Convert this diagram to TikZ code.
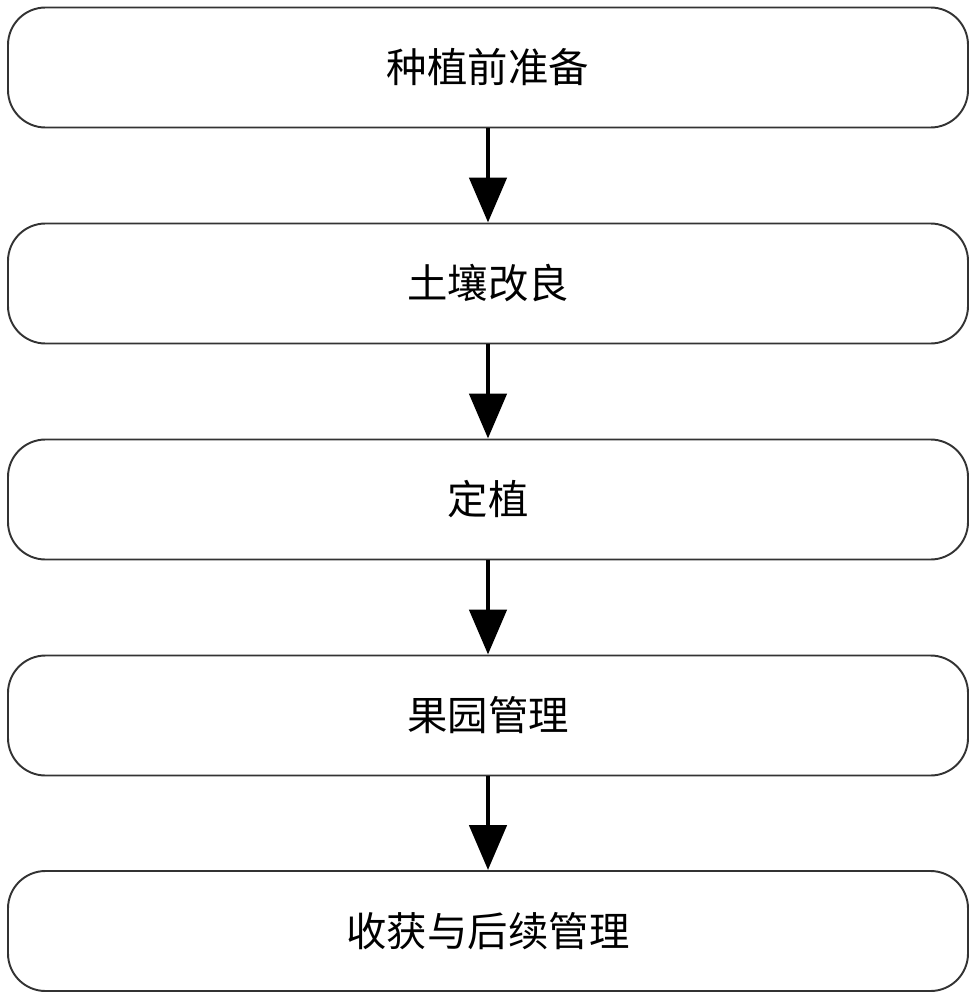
\documentclass[tikz,border=0pt]{standalone}
\usepackage{fontspec}
\setmainfont{Noto Sans CJK SC}
\usetikzlibrary{arrows.meta}

\tikzset{
  stepbox/.style={draw=black!80, line width=1.1pt, rounded corners=0.75cm,
    minimum width=19.2cm, minimum height=2.4cm, font=\fontsize{23}{27}\selectfont},
  flow/.style={line width=2.8pt, -{Triangle[length=0.9cm,width=0.74cm]}}
}

\begin{document}
\begin{tikzpicture}
			\useasboundingbox (0,0) rectangle (19.52,-20);
			\node[stepbox] (prep) at (9.76,-1.35) {种植前准备};
			\node[stepbox] (soil) at (9.76,-5.67) {土壤改良};
			\node[stepbox] (plant) at (9.76,-9.99) {定植};
			\node[stepbox] (manage) at (9.76,-14.31) {果园管理};
			\node[stepbox] (harvest) at (9.76,-18.62) {收获与后续管理};
			\draw[flow] (prep) -- (soil);
			\draw[flow] (soil) -- (plant);
			\draw[flow] (plant) -- (manage);
			\draw[flow] (manage) -- (harvest);
		\end{tikzpicture}
\end{document}
